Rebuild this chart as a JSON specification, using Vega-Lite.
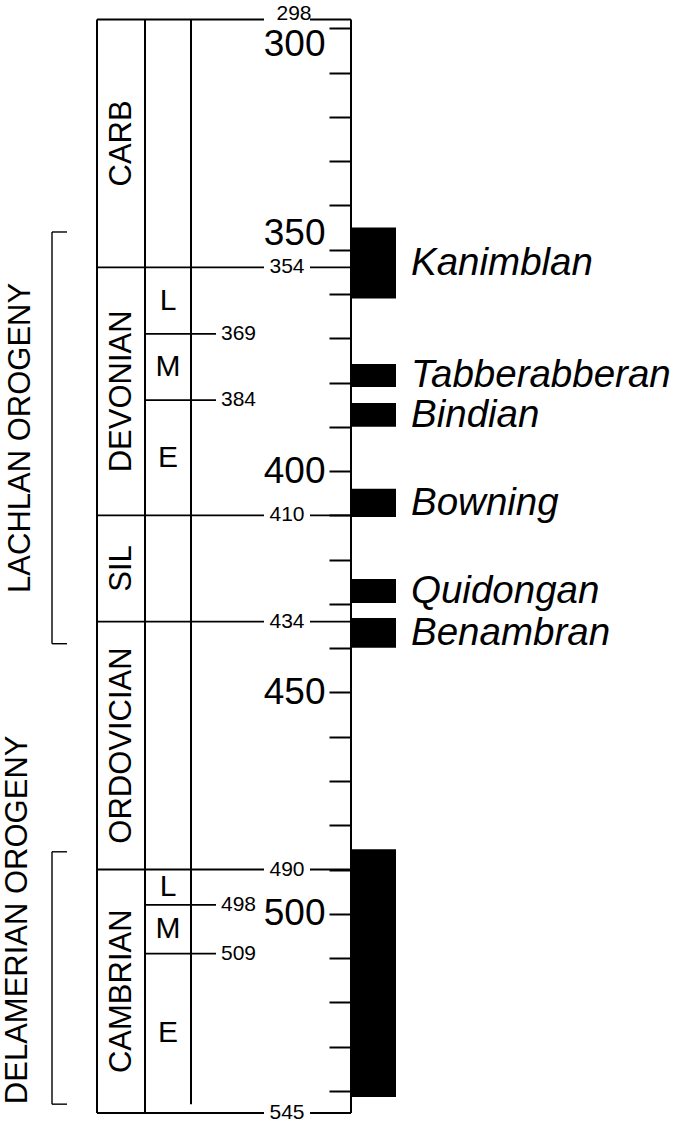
{
  "$schema": "https://vega.github.io/schema/vega-lite/v6.json",
  "width": 692,
  "height": 1122,
  "padding": 0,
  "autosize": {"type": "none"},
  "background": "white",
  "config": {
    "view": {"stroke": null},
    "font": "Liberation Sans",
    "text": {"font": "Liberation Sans", "color": "black"},
    "rule": {"color": "black"},
    "axisX": {"disable": true},
    "axisY": {
      "domain": false, "grid": false,
      "tickSize": 22, "tickWidth": 2, "tickColor": "black",
      "labelFont": "Liberation Sans", "labelFontSize": 37, "labelColor": "black",
      "labelPadding": 4, "labelAlign": "right", "labelBaseline": "middle"
    }
  },
  "datasets": {
    "periods": [
      {"period": "CARB", "start": 298, "end": 354},
      {"period": "DEVONIAN", "start": 354, "end": 410},
      {"period": "SIL", "start": 410, "end": 434},
      {"period": "ORDOVICIAN", "start": 434, "end": 490},
      {"period": "CAMBRIAN", "start": 490, "end": 545}
    ],
    "epochs": [
      {"period": "DEVONIAN", "epoch": "L", "start": 354, "end": 369},
      {"period": "DEVONIAN", "epoch": "M", "start": 369, "end": 384},
      {"period": "DEVONIAN", "epoch": "E", "start": 384, "end": 410},
      {"period": "CAMBRIAN", "epoch": "L", "start": 490, "end": 498},
      {"period": "CAMBRIAN", "epoch": "M", "start": 498, "end": 509},
      {"period": "CAMBRIAN", "epoch": "E", "start": 509, "end": 545}
    ],
    "boundaries": [
      {"age": 298, "level": "period"},
      {"age": 354, "level": "period"},
      {"age": 410, "level": "period"},
      {"age": 434, "level": "period"},
      {"age": 490, "level": "period"},
      {"age": 545, "level": "period"},
      {"age": 369, "level": "epoch"},
      {"age": 384, "level": "epoch"},
      {"age": 498, "level": "epoch"},
      {"age": 509, "level": "epoch"}
    ],
    "events": [
      {"event": "Kanimblan", "start": 345, "end": 361},
      {"event": "Tabberabberan", "start": 375.8, "end": 381},
      {"event": "Bindian", "start": 384.6, "end": 390},
      {"event": "Bowning", "start": 404, "end": 410.4},
      {"event": "Quidongan", "start": 424.4, "end": 429.8},
      {"event": "Benambran", "start": 433.2, "end": 439.9},
      {"event": "Delamerian", "start": 485.4, "end": 541.4}
    ],
    "orogenies": [
      {"orogeny": "LACHLAN OROGENY", "start": 346, "end": 439},
      {"orogeny": "DELAMERIAN OROGENY", "start": 486, "end": 543}
    ]
  },
  "layer": [
    {
      "data": {"name": "events"},
      "mark": {"type": "rect", "color": "black"},
      "encoding": {
        "x": {"datum": 351, "type": "quantitative", "scale": {"type": "linear", "domain": [0, 692], "nice": false, "zero": false}},
        "x2": {"datum": 396},
        "y": {
          "field": "start", "type": "quantitative", "title": null,
          "scale": {"type": "linear", "domain": [293.6, 547.03], "reverse": true, "nice": false, "zero": false},
          "axis": {
            "orient": "left", "offset": -351, "title": null,
            "values": [300, 310, 320, 330, 340, 350, 360, 370, 380, 390, 400, 410, 420, 430, 440, 450, 460, 470, 480, 490, 500, 510, 520, 530, 540],
            "labelExpr": "datum.value % 50 === 0 ? datum.label : ''",
            "labelOffset": {"condition": [{"test": "datum.value === 300", "value": 16}, {"test": "datum.value === 350", "value": -16}], "value": 0}
          }
        },
        "y2": {"field": "end"}
      }
    },
    {
      "data": {"values": [{}]},
      "layer": [
        {"mark": {"type": "rule", "strokeWidth": 2}, "encoding": {"x": {"datum": 97, "type": "quantitative"}, "y": {"datum": 298, "type": "quantitative", "title": null}, "y2": {"datum": 545}}},
        {"mark": {"type": "rule", "strokeWidth": 2}, "encoding": {"x": {"datum": 145, "type": "quantitative"}, "y": {"datum": 298, "type": "quantitative", "title": null}, "y2": {"datum": 545}}},
        {"mark": {"type": "rule", "strokeWidth": 2}, "encoding": {"x": {"datum": 191, "type": "quantitative"}, "y": {"datum": 298, "type": "quantitative", "title": null}, "y2": {"datum": 543}}},
        {"mark": {"type": "rule", "strokeWidth": 2}, "encoding": {"x": {"datum": 351, "type": "quantitative"}, "y": {"datum": 298, "type": "quantitative", "title": null}, "y2": {"datum": 545}}}
      ]
    },
    {
      "data": {"name": "boundaries"},
      "transform": [{"filter": "datum.level === 'period'"}],
      "layer": [
        {"mark": {"type": "rule", "strokeWidth": 1.8}, "encoding": {"x": {"datum": 97, "type": "quantitative"}, "x2": {"datum": 264}, "y": {"field": "age", "type": "quantitative", "title": null}}},
        {"mark": {"type": "rule", "strokeWidth": 1.8}, "encoding": {"x": {"datum": 310, "type": "quantitative"}, "x2": {"datum": 351}, "y": {"field": "age", "type": "quantitative", "title": null}}},
        {"transform": [{"filter": "datum.age !== 298"}], "mark": {"type": "text", "fontSize": 21, "align": "center", "baseline": "middle"}, "encoding": {"x": {"datum": 287, "type": "quantitative"}, "y": {"field": "age", "type": "quantitative", "title": null}, "text": {"field": "age", "type": "quantitative"}}},
        {"transform": [{"filter": "datum.age === 298"}], "mark": {"type": "text", "fontSize": 21, "align": "center", "baseline": "middle", "dy": -5}, "encoding": {"x": {"datum": 294, "type": "quantitative"}, "y": {"field": "age", "type": "quantitative", "title": null}, "text": {"field": "age", "type": "quantitative"}}}
      ]
    },
    {
      "data": {"name": "boundaries"},
      "transform": [{"filter": "datum.level === 'epoch'"}],
      "layer": [
        {"mark": {"type": "rule", "strokeWidth": 1.8}, "encoding": {"x": {"datum": 145, "type": "quantitative"}, "x2": {"datum": 216}, "y": {"field": "age", "type": "quantitative", "title": null}}},
        {"mark": {"type": "text", "fontSize": 21, "align": "left", "baseline": "middle"}, "encoding": {"x": {"datum": 221, "type": "quantitative"}, "y": {"field": "age", "type": "quantitative", "title": null}, "text": {"field": "age", "type": "quantitative"}}}
      ]
    },
    {
      "data": {"name": "periods"},
      "transform": [{"fold": ["start", "end"], "as": ["bound", "age"]}],
      "mark": {"type": "text", "fontSize": 31, "angle": 270, "align": "center", "baseline": "middle"},
      "encoding": {
        "x": {"datum": 122, "type": "quantitative"},
        "y": {"aggregate": "mean", "field": "age", "type": "quantitative", "title": null},
        "text": {"field": "period", "type": "nominal"}
      }
    },
    {
      "data": {"name": "epochs"},
      "transform": [{"fold": ["start", "end"], "as": ["bound", "age"]}],
      "mark": {"type": "text", "fontSize": 30, "align": "center", "baseline": "middle"},
      "encoding": {
        "x": {"datum": 168, "type": "quantitative"},
        "y": {"aggregate": "mean", "field": "age", "type": "quantitative", "title": null},
        "text": {"field": "epoch", "type": "nominal"},
        "detail": {"field": "period", "type": "nominal"}
      }
    },
    {
      "data": {"name": "events"},
      "transform": [{"filter": "datum.event !== 'Delamerian'"}, {"fold": ["start", "end"], "as": ["bound", "age"]}],
      "mark": {"type": "text", "fontSize": 38.5, "fontStyle": "italic", "align": "left", "baseline": "middle"},
      "encoding": {
        "x": {"datum": 411, "type": "quantitative"},
        "y": {"aggregate": "mean", "field": "age", "type": "quantitative", "title": null},
        "text": {"field": "event", "type": "nominal"}
      }
    },
    {
      "data": {"name": "orogenies"},
      "layer": [
        {"mark": {"type": "rule", "strokeWidth": 1.4}, "encoding": {"x": {"datum": 52, "type": "quantitative"}, "y": {"field": "start", "type": "quantitative", "title": null}, "y2": {"field": "end"}}},
        {"mark": {"type": "rule", "strokeWidth": 1.4}, "encoding": {"x": {"datum": 52, "type": "quantitative"}, "x2": {"datum": 67}, "y": {"field": "start", "type": "quantitative", "title": null}}},
        {"mark": {"type": "rule", "strokeWidth": 1.4}, "encoding": {"x": {"datum": 52, "type": "quantitative"}, "x2": {"datum": 67}, "y": {"field": "end", "type": "quantitative", "title": null}}}
      ]
    },
    {
      "data": {"name": "orogenies"},
      "transform": [{"filter": "datum.orogeny === 'LACHLAN OROGENY'"}, {"fold": ["start", "end"], "as": ["bound", "age"]}],
      "mark": {"type": "text", "fontSize": 31, "angle": 270, "align": "center", "baseline": "middle"},
      "encoding": {
        "x": {"datum": 21, "type": "quantitative"},
        "y": {"aggregate": "mean", "field": "age", "type": "quantitative", "title": null},
        "text": {"field": "orogeny", "type": "nominal"}
      }
    },
    {
      "data": {"name": "orogenies"},
      "transform": [{"filter": "datum.orogeny === 'DELAMERIAN OROGENY'"}],
      "mark": {"type": "text", "fontSize": 31, "angle": 270, "align": "left", "baseline": "middle"},
      "encoding": {
        "x": {"datum": 18, "type": "quantitative"},
        "y": {"field": "end", "type": "quantitative", "title": null},
        "text": {"field": "orogeny", "type": "nominal"}
      }
    }
  ]
}
